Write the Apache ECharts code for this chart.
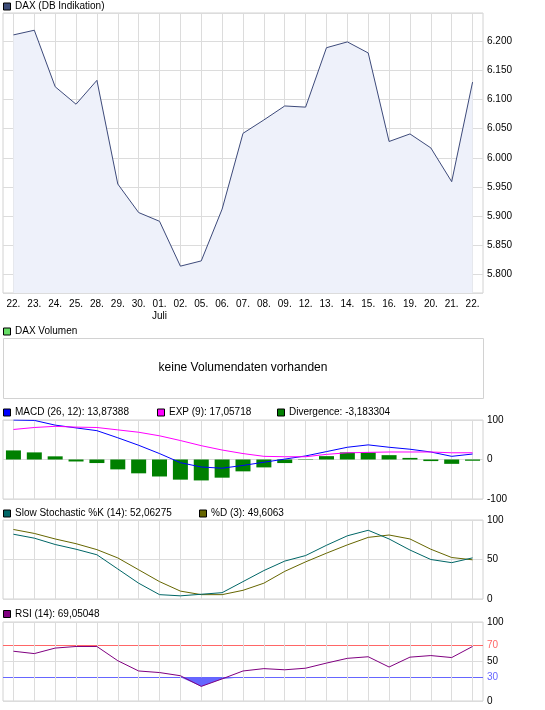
<!DOCTYPE html>
<html><head><meta charset="utf-8">
<script src="https://cdn.jsdelivr.net/npm/echarts@6/dist/echarts.min.js"></script>
<style>html,body{margin:0;padding:0;background:#fff}#c{width:545px;height:710px}</style>
</head><body><div id="c"></div>
<script>
const days = ['22.','23.','24.','25.','28.','29.','30.','01.','02.','05.','06.','07.','08.','09.','12.','13.','14.','15.','16.','19.','20.','21.','22.'];
const months = ['','','','','','','','Juli','','','','','','','','','','','','','','',''];
const dax = [6211, 6219, 6122, 6092, 6133, 5955, 5906, 5891, 5814, 5823, 5912, 6042, 6065, 6089, 6087, 6189, 6199, 6180, 6028, 6041, 6017, 5959, 6130];
const macd = [100, 99, 87, 80, 73, 55, 36, 15, -8, -19, -22, -15, -7, 1, 9, 20, 31, 37, 31, 26, 19, 8, 13.87];
const expLine = [76, 81, 84, 82, 81, 75, 69, 60, 48, 35, 24, 15, 8, 7, 7, 13, 17, 18, 19, 19, 19, 17, 17.06];
const divergence = [23, 18, 8, -5, -9, -25, -35, -43, -51, -53, -46, -30, -20, -9, 1, 8.5, 18, 18, 11, 4, -4, -11, -3.18];
const stochK = [82, 77, 69, 63, 56, 38, 20, 5.5, 4, 6, 8, 22, 36, 48, 55, 68, 80, 87, 76, 62, 50, 46, 52.06];
const stochD = [88, 83, 76, 70, 62.5, 52, 37, 22, 10, 5.5, 5.5, 11, 20, 35, 47, 58, 68.5, 78, 81, 76, 63, 52.5, 49.61];
const rsi = [63, 60, 67, 69, 69, 51, 38, 36, 32, 18.5, 28, 38, 41, 39.5, 41.5, 48, 54, 56, 43, 55.5, 57.5, 55, 69.05];
const rsiTicks = [0, 30, 50, 70, 100];
const rsiOverbought = 70;
const rsiOversold = 30;
const legends = [
  {y: 6.5, items: [{x: 3, color: '#3c4c78', text: 'DAX (DB Indikation)'}]},
  {y: 331.5, items: [{x: 3, color: '#66dd66', text: 'DAX Volumen'}]},
  {y: 412.5, items: [{x: 3, color: '#0000ff', text: 'MACD (26, 12): 13,87388'}, {x: 157, color: '#ff00ff', text: 'EXP (9): 17,05718'}, {x: 277, color: '#008000', text: 'Divergence: -3,183304'}]},
  {y: 513.5, items: [{x: 3, color: '#006666', text: 'Slow Stochastic %K (14): 52,06275'}, {x: 199, color: '#666600', text: '%D (3): 49,6063'}]},
  {y: 614, items: [{x: 3, color: '#800080', text: 'RSI (14): 69,05048'}]}
];
const noVolumeText = 'keine Volumendaten vorhanden';

const FONT = "'Liberation Sans', Arial, sans-serif";
const GRID_COLOR = '#dcdcdc';
const FRAME = '#d2d2d2';
const RED = '#ff6666';
const BLUE = '#6666ff';

const grids = [
  {left: 3, top: 13, width: 480, height: 280},
  {left: 3, top: 420, width: 480, height: 79},
  {left: 3, top: 520, width: 480, height: 79},
  {left: 3, top: 622, width: 480, height: 79}
].map(g => Object.assign(g, {show: true, borderColor: FRAME, borderWidth: 1, backgroundColor: '#fff'}));

const xAxes = grids.map((g, i) => ({
  type: 'category', gridIndex: i, data: days, boundaryGap: true,
  axisLine: {show: false}, axisTick: {show: false},
  axisLabel: {show: i === 0, interval: 0, margin: 5, fontFamily: FONT, fontSize: 10, color: '#000', lineHeight: 12,
    formatter: (v, idx) => months[idx] ? v + '\n' + months[idx] : v},
  splitLine: {show: true, interval: 0, alignWithLabel: true, lineStyle: {color: GRID_COLOR, width: 1}}
}));

// RSI axis: ticks every 10, only selected levels get a line / label
const rsiLineColors = [];
for (let v = 0; v <= 100; v += 10) {
  rsiLineColors.push(v === rsiOverbought ? RED : v === rsiOversold ? BLUE : rsiTicks.indexOf(v) >= 0 ? GRID_COLOR : 'rgba(0,0,0,0)');
}

const lab = {fontFamily: FONT, fontSize: 10, color: '#000', margin: 4};
const yAxes = [
  {type: 'value', gridIndex: 0, position: 'right', min: 5767.9, max: 6248.6, minInterval: 50, maxInterval: 50,
   axisLine: {show: false}, axisTick: {show: false},
   axisLabel: Object.assign({}, lab, {showMinLabel: false, showMaxLabel: false,
     formatter: v => { const n = Math.round(v); return Math.floor(n / 1000) + '.' + String(n % 1000).padStart(3, '0'); }}),
   splitLine: {lineStyle: {color: GRID_COLOR}}},
  {type: 'value', gridIndex: 1, position: 'right', min: -100, max: 100, interval: 100,
   axisLine: {show: false}, axisTick: {show: false}, axisLabel: lab, splitLine: {lineStyle: {color: GRID_COLOR}}},
  {type: 'value', gridIndex: 2, position: 'right', min: 0, max: 100, interval: 50,
   axisLine: {show: false}, axisTick: {show: false}, axisLabel: lab, splitLine: {lineStyle: {color: GRID_COLOR}}},
  {type: 'value', gridIndex: 3, position: 'right', min: 0, max: 100, interval: 10,
   axisLine: {show: false}, axisTick: {show: false},
   axisLabel: Object.assign({}, lab, {
     formatter: v => v === rsiOverbought ? '{r|' + v + '}' : v === rsiOversold ? '{b|' + v + '}' : rsiTicks.indexOf(v) >= 0 ? String(v) : '',
     rich: {r: {color: RED, fontFamily: FONT, fontSize: 10}, b: {color: BLUE, fontFamily: FONT, fontSize: 10}}}),
   splitLine: {lineStyle: {color: rsiLineColors, width: 1}}}
];

const line = (data, xi, color, extra) => Object.assign({
  type: 'line', data: data, xAxisIndex: xi, yAxisIndex: xi, symbol: 'none', silent: true,
  lineStyle: {color: color, width: 1}, itemStyle: {color: color}
}, extra || {});

// oversold fill: band between min(rsi, 30) and the 30 level
const rsiLow = rsi.map(v => Math.min(v, rsiOversold));
const rsiGap = rsiLow.map(v => rsiOversold - v);

const series = [
  line(dax, 0, '#3d4a7a', {areaStyle: {color: '#eef1fa', opacity: 1, origin: 'start'}}),
  {type: 'bar', data: divergence, xAxisIndex: 1, yAxisIndex: 1, barWidth: 15, itemStyle: {color: '#008000'}, silent: true},
  line(macd, 1, '#0000ff'),
  line(expLine, 1, '#ff00ff'),
  line(stochD, 2, '#666600'),
  line(stochK, 2, '#006666'),
  line(rsiLow, 3, BLUE, {stack: 'os', lineStyle: {opacity: 0, width: 0}, z: 1}),
  line(rsiGap, 3, BLUE, {stack: 'os', lineStyle: {opacity: 0, width: 0}, areaStyle: {color: BLUE, opacity: 1}, z: 1}),
  line(rsi, 3, '#800080', {z: 3})
];

const graphic = [
  {type: 'rect', shape: {x: 3.5, y: 338.5, width: 480, height: 60}, style: {fill: '#fff', stroke: FRAME, lineWidth: 1}, silent: true},
  {type: 'text', x: 243, y: 368, style: {text: noVolumeText, font: '12px ' + FONT, fill: '#000', align: 'center', verticalAlign: 'middle'}, silent: true}
];
legends.forEach(row => row.items.forEach(it => {
  graphic.push({type: 'rect', shape: {x: it.x + 0.5, y: row.y - 3.5, width: 7, height: 7}, style: {fill: it.color, stroke: '#000', lineWidth: 1}, silent: true});
  graphic.push({type: 'text', x: it.x + 12, y: row.y, style: {text: it.text, font: '10px ' + FONT, fill: '#000', verticalAlign: 'middle'}, silent: true});
}));

const chart = echarts.init(document.getElementById('c'), null, {renderer: 'canvas'});
chart.setOption({
  animation: false,
  backgroundColor: '#fff',
  grid: grids, xAxis: xAxes, yAxis: yAxes, series: series, graphic: graphic
});
</script></body></html>
